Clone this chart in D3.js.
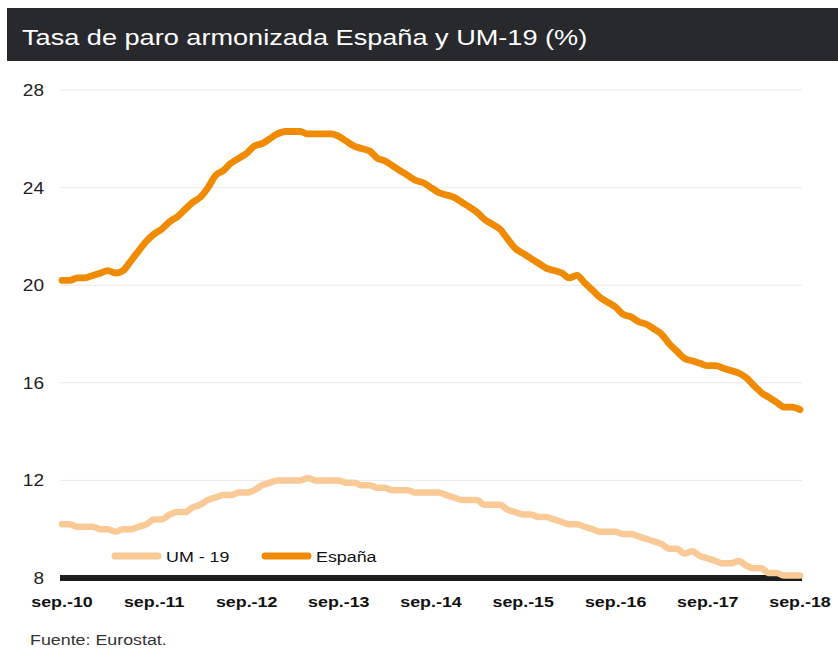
<!DOCTYPE html>
<html>
<head>
<meta charset="utf-8">
<script src="https://cdn.jsdelivr.net/npm/d3@7"></script>
<style>
  html, body { margin: 0; padding: 0; background: #ffffff; }
  svg { display: block; }
  text { font-family: "Liberation Sans", Arial, Helvetica, sans-serif; }
</style>
</head>
<body>
<svg id="chart" width="838" height="648"></svg>
<script>
// ---- Data (monthly, sep-2010 .. sep-2018) ----
const startYear = 2010, startMonth = 8; // September 2010
const espana = [
  20.2, 20.2, 20.3, 20.3, 20.4, 20.5, 20.6, 20.5, 20.6, 21.0,
  21.4, 21.8, 22.1, 22.3, 22.6, 22.8, 23.1, 23.4, 23.6, 24.0,
  24.5, 24.7, 25.0, 25.2, 25.4, 25.7, 25.8, 26.0, 26.2, 26.3,
  26.3, 26.3, 26.2, 26.2, 26.2, 26.2, 26.1, 25.9, 25.7, 25.6,
  25.5, 25.2, 25.1, 24.9, 24.7, 24.5, 24.3, 24.2, 24.0, 23.8,
  23.7, 23.6, 23.4, 23.2, 23.0, 22.7, 22.5, 22.3, 21.9, 21.5,
  21.3, 21.1, 20.9, 20.7, 20.6, 20.5, 20.3, 20.4, 20.1, 19.8,
  19.5, 19.3, 19.1, 18.8, 18.7, 18.5, 18.4, 18.2, 18.0, 17.6,
  17.3, 17.0, 16.9, 16.8, 16.7, 16.7, 16.6, 16.5, 16.4, 16.2,
  15.9, 15.6, 15.4, 15.2, 15.0, 15.0, 14.9
];
const um19 = [
  10.2, 10.2, 10.1, 10.1, 10.1, 10.0, 10.0, 9.9, 10.0, 10.0,
  10.1, 10.2, 10.4, 10.4, 10.6, 10.7, 10.7, 10.9, 11.0, 11.2,
  11.3, 11.4, 11.4, 11.5, 11.5, 11.6, 11.8, 11.9, 12.0, 12.0,
  12.0, 12.0, 12.1, 12.0, 12.0, 12.0, 12.0, 11.9, 11.9, 11.8,
  11.8, 11.7, 11.7, 11.6, 11.6, 11.6, 11.5, 11.5, 11.5, 11.5,
  11.4, 11.3, 11.2, 11.2, 11.2, 11.0, 11.0, 11.0, 10.8, 10.7,
  10.6, 10.6, 10.5, 10.5, 10.4, 10.3, 10.2, 10.2, 10.1, 10.0,
  9.9, 9.9, 9.9, 9.8, 9.8, 9.7, 9.6, 9.5, 9.4, 9.2,
  9.2, 9.0, 9.1, 8.9, 8.8, 8.7, 8.6, 8.6, 8.7, 8.5,
  8.4, 8.4, 8.2, 8.2, 8.1, 8.1, 8.1
];
const yTicks = [8, 12, 16, 20, 24, 28];
const xTickLabels = ["sep.-10", "sep.-11", "sep.-12", "sep.-13", "sep.-14", "sep.-15", "sep.-16", "sep.-17", "sep.-18"];
const seriesNames = ["UM - 19", "España"];
const titleText = "Tasa de paro armonizada España y UM-19 ";
const titleUnit = "(%)";
const sourceText = "Fuente: Eurostat.";

// ---- Setup ----
const SX = 1.19; // horizontal text stretch seen in the reference
const svg = d3.select("#chart");
const colEsp = "#f08a00", colUM = "#f9c996";

const dateOf = i => new Date(startYear, startMonth + i, 1);
const x = d3.scaleTime()
  .domain([dateOf(0), dateOf(espana.length - 1)])
  .range([62, 800]);
const y = d3.scaleLinear().domain([8, 28]).range([578, 90]);

function stretchText(g, px, py) {
  return g.append("text").attr("transform", `translate(${px},${py}) scale(${SX},1)`);
}

// ---- Title bar ----
svg.append("rect").attr("x", 7).attr("y", 8).attr("width", 831).attr("height", 53).attr("fill", "#27292d");
const t = stretchText(svg, 22, 45).attr("fill", "#ffffff").attr("font-size", 22.8);
t.append("tspan").text(titleText);
t.append("tspan").attr("font-weight", 300).text(titleUnit);

// ---- Grid ----
const gx0 = 60, gx1 = 802;
svg.append("g").selectAll("line")
  .data(yTicks.filter(v => v !== 8))
  .join("line")
  .attr("x1", gx0).attr("x2", gx1)
  .attr("y1", d => y(d)).attr("y2", d => y(d))
  .attr("stroke", "#e9e9e9").attr("stroke-width", 1);

// Y labels
const yl = svg.append("g");
yTicks.forEach(v => {
  stretchText(yl, 44, y(v) + 6).attr("text-anchor", "end").attr("font-size", 16).attr("fill", "#222").text(v);
});

// Base axis line at 8
svg.append("line").attr("x1", gx0).attr("x2", gx1).attr("y1", y(8)).attr("y2", y(8))
  .attr("stroke", "#1d1d1d").attr("stroke-width", 6);

// X labels
const xl = svg.append("g");
xTickLabels.forEach((lab, k) => {
  stretchText(xl, x(dateOf(k * 12)), 607).attr("text-anchor", "middle")
    .attr("font-size", 15).attr("font-weight", "bold").attr("fill", "#111").text(lab);
});

// ---- Lines ----
const line = d3.line()
  .x((d, i) => x(dateOf(i)))
  .y(d => y(d))
  .curve(d3.curveMonotoneX);

svg.append("path").datum(um19).attr("d", line)
  .attr("fill", "none").attr("stroke", colUM).attr("stroke-width", 6.5)
  .attr("stroke-linejoin", "round").attr("stroke-linecap", "round");
svg.append("path").datum(espana).attr("d", line)
  .attr("fill", "none").attr("stroke", colEsp).attr("stroke-width", 6.8)
  .attr("stroke-linejoin", "round").attr("stroke-linecap", "round");

// ---- Legend ----
const leg = svg.append("g");
[{name: seriesNames[0], col: colUM, x0: 112}, {name: seriesNames[1], col: colEsp, x0: 262}].forEach(d => {
  leg.append("line").attr("x1", d.x0 + 3).attr("x2", d.x0 + 46).attr("y1", 556).attr("y2", 556)
    .attr("stroke", d.col).attr("stroke-width", 7).attr("stroke-linecap", "round");
  stretchText(leg, d.x0 + 54, 562).attr("font-size", 15).attr("fill", "#111").text(d.name);
});

// ---- Source ----
stretchText(svg, 30, 645).attr("font-size", 15).attr("fill", "#333").text(sourceText);
</script>
</body>
</html>
